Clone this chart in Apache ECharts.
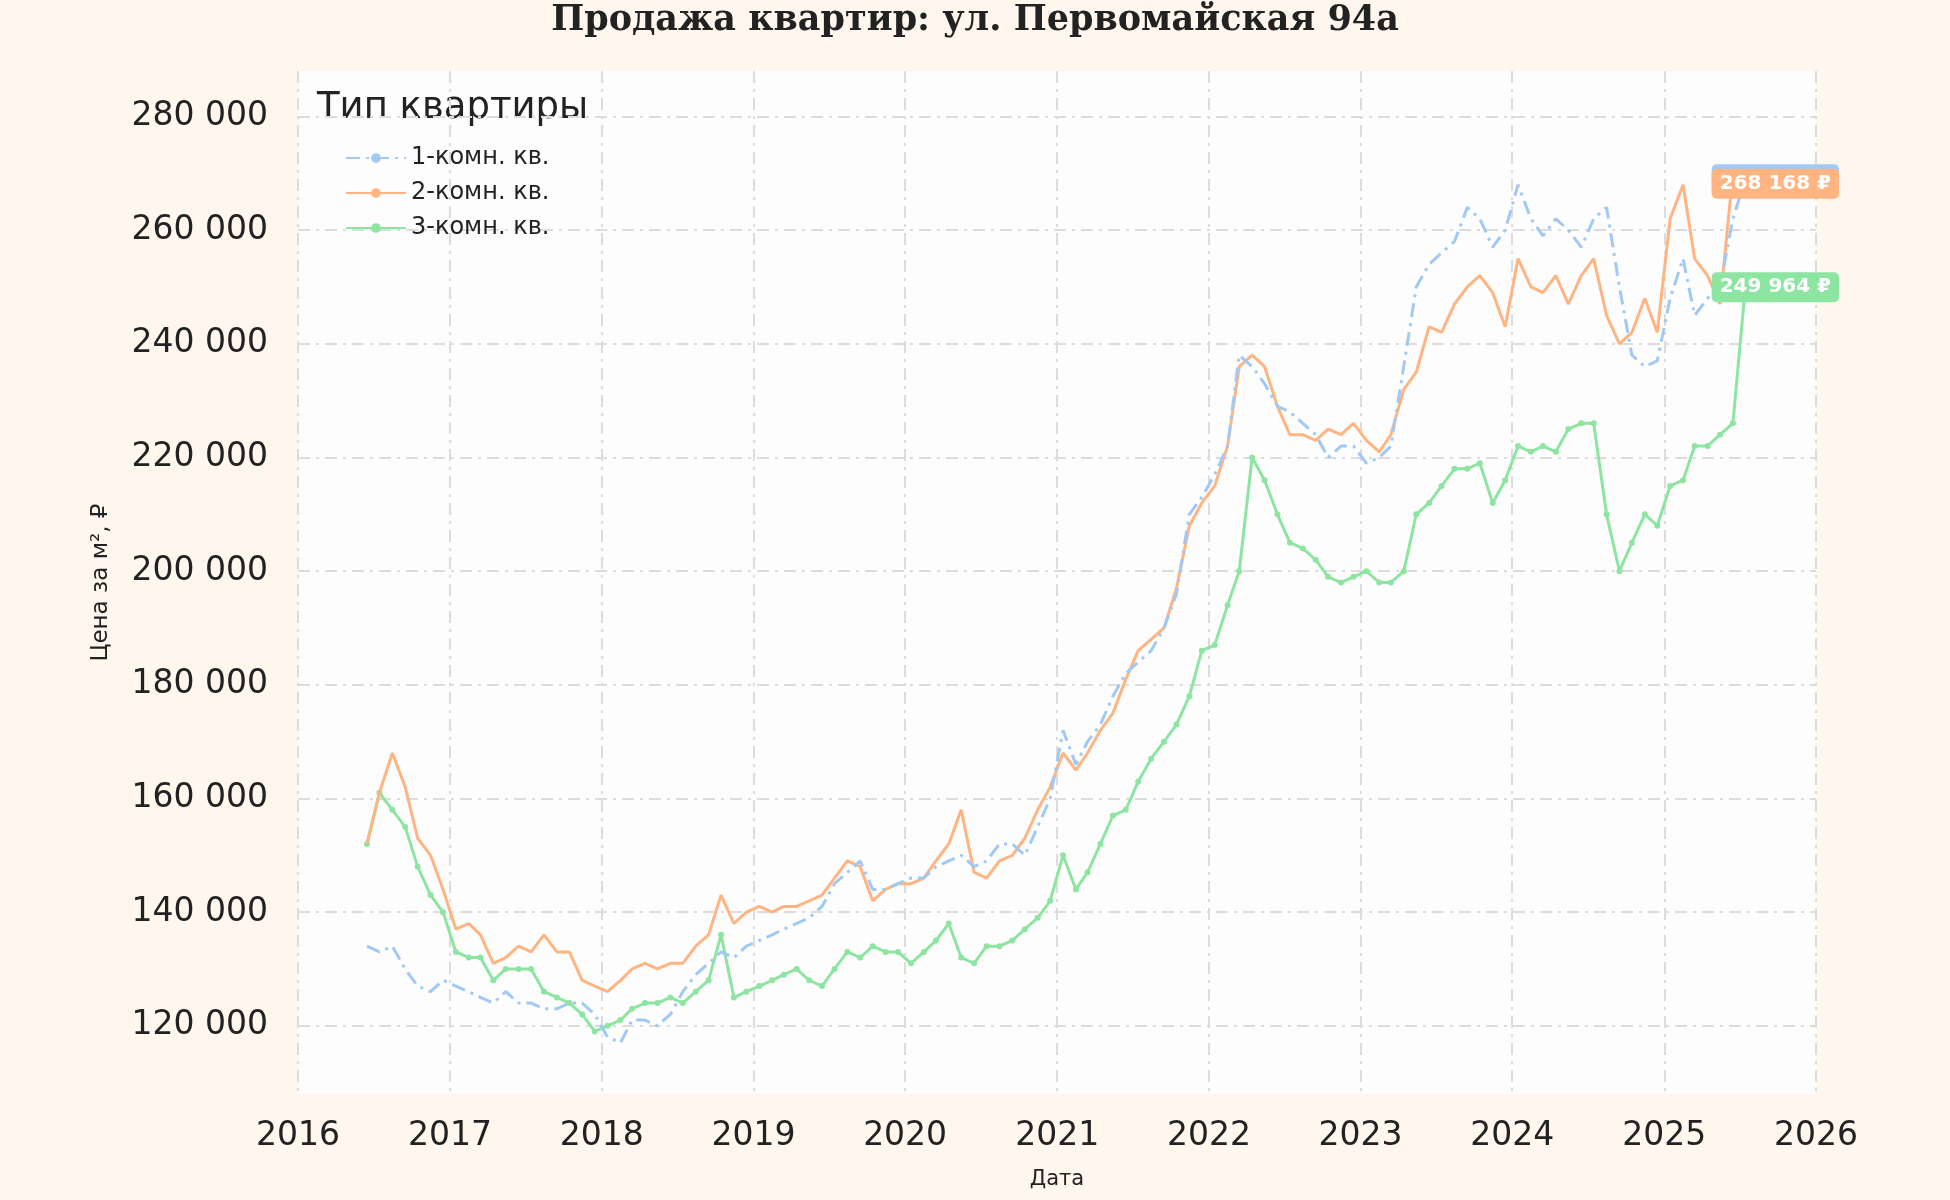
<!DOCTYPE html>
<html><head><meta charset="utf-8">
<script src="https://cdn.jsdelivr.net/npm/echarts@6/dist/echarts.min.js"></script>
<style>html,body{margin:0;padding:0;background:#fff7ee}#c{width:1950px;height:1200px}</style>
</head><body><div id="c"></div>
<script>
const months = [];
for (let y = 2016; y <= 2025; y++) for (let m = 1; m <= 12; m++) {
  if ((y === 2016 && m < 6) || (y === 2025 && m > 7)) continue;
  months.push(y + '-' + String(m).padStart(2, '0') + '-15');
}
const room1 = [134,133,134,130,127,126,128,
127,126,125,124,126,124,124,123,123,124,124,122,
118,117,121,121,120,122,126,129,131,133,132,134,
135,136,137,138,139,141,145,147,149,144,144,145,
146,146,148,149,150,148,149,152,152,150,155,160,
172,166,170,173,178,182,184,186,190,196,210,213,
217,222,238,236,233,229,228,226,224,220,222,222,
219,220,222,236,250,254,256,258,264,262,257,260,
268,262,259,262,260,257,262,264,250,238,236,237,
248,255,245,248,250,262,268.957];
const room2 = [152,161,168,162,153,150,144,
137,138,136,131,132,134,133,136,133,133,128,127,
126,128,130,131,130,131,131,134,136,143,138,140,
141,140,141,141,142,143,146,149,148,142,144,145,
145,146,149,152,158,147,146,149,150,153,158,162,
168,165,168,172,175,181,186,188,190,197,208,212,
215,222,236,238,236,229,224,224,223,225,224,226,
223,221,224,232,235,243,242,247,250,252,249,243,
255,250,249,252,247,252,255,245,240,242,248,242,
262,268,255,252,247,270,268.168];
const room3 = [152,161,158,155,148,143,140,
133,132,132,128,130,130,130,126,125,124,122,119,
120,121,123,124,124,125,124,126,128,136,125,126,
127,128,129,130,128,127,130,133,132,134,133,133,
131,133,135,138,132,131,134,134,135,137,139,142,
150,144,147,152,157,158,163,167,170,173,178,186,
187,194,200,220,216,210,205,204,202,199,198,199,
200,198,198,200,210,212,215,218,218,219,212,216,
222,221,222,221,225,226,226,210,200,205,210,208,
215,216,222,222,224,226,249.964];
const names = ['1-комн. кв.', '2-комн. кв.', '3-комн. кв.'];
const colors = ['#a1c9f4', '#ffb482', '#8de5a1'];
const yTicks = [120000,140000,160000,180000,200000,220000,240000,260000,280000];
const fmt = v => Math.round(v).toString().replace(/\B(?=(\d{3})+(?!\d))/g, ' ');

function mk(i, vals, type) {
  const data = months.map((d, k) => [d, vals[k] * 1000]);
  const last = data[data.length - 1];
  return {
    name: names[i], type: 'line', data,
    showSymbol: i === 2, symbol: i === 2 ? 'circle' : 'none', symbolSize: 6,
    lineStyle: { color: colors[i], width: 3, type: type },
    itemStyle: { color: colors[i] },
    z: 3 - i,
    markPoint: {
      symbol: 'rect', symbolSize: 0,
      data: [{ coord: last, value: last[1] }],
      label: { show: true, formatter: p => fmt(p.value) + ' ₽', color: '#fff', fontWeight: 'bold',
        fontFamily: 'DejaVu Sans', fontSize: 20, backgroundColor: colors[i], borderRadius: 5, padding: [5, 8], offset: [30, 0] }
    }
  };
}
const chart = echarts.init(document.getElementById('c'));
chart.setOption({
  backgroundColor: '#fff7ee',
  title: { text: 'Продажа квартир: ул. Первомайская 94а', left: 'center', top: -2,
    textStyle: { fontFamily: 'DejaVu Serif', fontWeight: 'bold', fontSize: 35, color: '#222' } },
  grid: { left: 298, right: 134, top: 71, bottom: 106, backgroundColor: '#fdfdfd', show: true, borderWidth: 0 },
  legend: { orient: 'vertical', left: 340, top: 141, itemGap: 11, itemWidth: 60, itemHeight: 12,
    textStyle: { fontFamily: 'DejaVu Sans', fontSize: 24, color: '#222' },
    data: names },
  graphic: [{ type: 'text', left: 317, top: 90, style: { text: 'Тип квартиры', fontFamily: 'DejaVu Sans', fontSize: 37, fill: '#222' } }],
  xAxis: { type: 'time', min: '2016-01-01', max: '2026-01-01', name: 'Дата', nameLocation: 'middle', nameGap: 75,
    nameTextStyle: { fontFamily: 'DejaVu Sans', fontSize: 21, color: '#222' },
    axisLine: { show: false }, axisTick: { show: false },
    axisLabel: { formatter: '{yyyy}', fontFamily: 'DejaVu Sans', fontSize: 33, color: '#222', margin: 26, showMaxLabel: true, showMinLabel: true },
    splitNumber: 10,
    splitLine: { show: true, lineStyle: { color: '#dcdcdc', width: 2, type: [12, 6, 3, 6] } } },
  yAxis: { type: 'value', min: 108000, max: 288000, name: 'Цена за м², ₽', nameLocation: 'middle', nameGap: 185,
    nameTextStyle: { fontFamily: 'DejaVu Sans', fontSize: 23, color: '#222' },
    axisLine: { show: false },
    axisTick: { show: false, customValues: yTicks },
    axisLabel: { customValues: yTicks, formatter: fmt, fontFamily: 'DejaVu Sans', fontSize: 33, color: '#222', margin: 30 },
    splitLine: { show: true, lineStyle: { color: '#dcdcdc', width: 2, type: [12, 6, 3, 6] } } },
  series: [mk(0, room1, [14, 6, 3, 6]), mk(1, room2, 'solid'), mk(2, room3, 'solid')]
});
</script></body></html>
